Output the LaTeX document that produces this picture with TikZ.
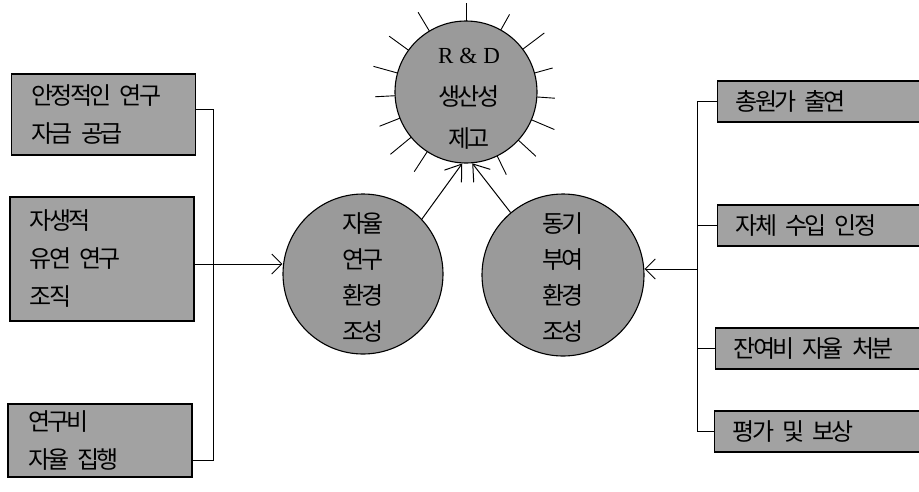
\documentclass[tikz,border=0pt]{standalone}
\usepackage{fontspec}
\newfontfamily\kr{Noto Sans CJK KR}[WordSpace=2.8, LetterSpace=-11]
\newfontfamily\lat{Liberation Serif}
\usetikzlibrary{arrows.meta,calc}
\definecolor{boxgray}{HTML}{A2A2A2}
\definecolor{circgray}{HTML}{9A9A9A}
\begin{document}
\begin{tikzpicture}[x=1pt,y=-1pt,
  line width=1pt,
  boxbase/.style={draw=black, line width=1.1pt, fill=boxgray, rectangle, inner ysep=0pt,
    align=left, font=\kr\fontsize{24}{38}\selectfont},
  lbox/.style={boxbase, inner xsep=20pt, text width=144pt, minimum width=184pt},
  rbox/.style={boxbase, inner xsep=18pt, text width=200pt, minimum height=41pt, anchor=west},
  circ/.style={draw=black, line width=1.1pt, fill=circgray, circle, inner sep=0pt},
  ctext/.style={align=center, inner sep=0pt, font=\kr\fontsize{24}{36}\selectfont},
  ray/.style={line width=0.9pt},
  sidearrow/.style={-{Straight Barb[length=10pt,width=20pt]}},
  toparrow/.style={-{Straight Barb[length=15pt,width=21pt]}}
]
\useasboundingbox (0,0) rectangle (919,491);
\clip (0,0) rectangle (919,491);

% left boxes
\node[lbox, minimum height=81pt] (L1) at (103.5,114.5) {안정적인 연구\\자금 공급};
\node[lbox, minimum height=124pt] (L2) at (102,259) {자생적\\유연 연구\\조직};
\node[lbox, minimum height=73pt] (L3) at (100,440.5) {연구비\\자율 집행};

% right boxes
\node[rbox] (R1) at (717,101.5) {총원가 출연};
\node[rbox] (R2) at (717,225.5) {자체 수입 인정};
\node[rbox] (R3) at (715,348.5) {잔여비 자율 처분};
\node[rbox] (R4) at (714,431.5) {평가 및 보상};

% top circle rays
\coordinate (C0c) at (466,92);
\foreach \a/\r in {90/89, 121/93, 60.7/89, 144/95, 37/98, 164.5/96, 15.5/90, 183/91,
  -4/89, 201.6/93, -23/96, 219.5/98, -42.6/95, 237/95, -64/92}
  \draw[ray] ($(C0c)+(\a:68pt)$) -- ($(C0c)+(\a:\r pt)$);

% circles
\node[circ, minimum size=142pt] (C0) at (C0c) {};
\node[ctext, font=\kr\fontsize{24}{42}\selectfont] (C0t) at (469,99)
  {{\lat\fontsize{23}{42}\selectfont R\kern6pt\&\kern6pt D}\\생산성\\제고};
\node[circ, minimum size=160pt] (C1) at (363,274) {};
\node[ctext] (C1t) at (363,277) {자율\\연구\\환경\\조성};
\node[circ, minimum size=162pt] (C2) at (563,275) {};
\node[ctext] (C2t) at (563,277) {동기\\부여\\환경\\조성};

% left connectors
\coordinate (Lbus) at (213,0);
\draw ([yshift=5.5pt]L1.east) -- ([yshift=5.5pt]L1.east -| Lbus)
  -- ([yshift=-19.5pt]L3.east -| Lbus) -- ([yshift=-19.5pt]L3.east);
\draw[sidearrow] ([yshift=-5pt]L2.east) -- ([yshift=-5pt]L2.east -| C1.west);

% right connectors
\coordinate (Rbus) at (697,0);
\draw (R1.west -| Rbus) -- (R4.west -| Rbus);
\foreach \n in {R1,R2,R3,R4}
  \draw (\n.west) -- (\n.west -| Rbus);
\draw[sidearrow] ([yshift=6pt]C2.east -| Rbus) -- ([yshift=6pt]C2.east);

% arrows to top circle
\draw[toparrow] (C1.43) -- (C0.267);
\draw[toparrow] (C2.130) -- (C0.275);
\end{tikzpicture}
\end{document}
